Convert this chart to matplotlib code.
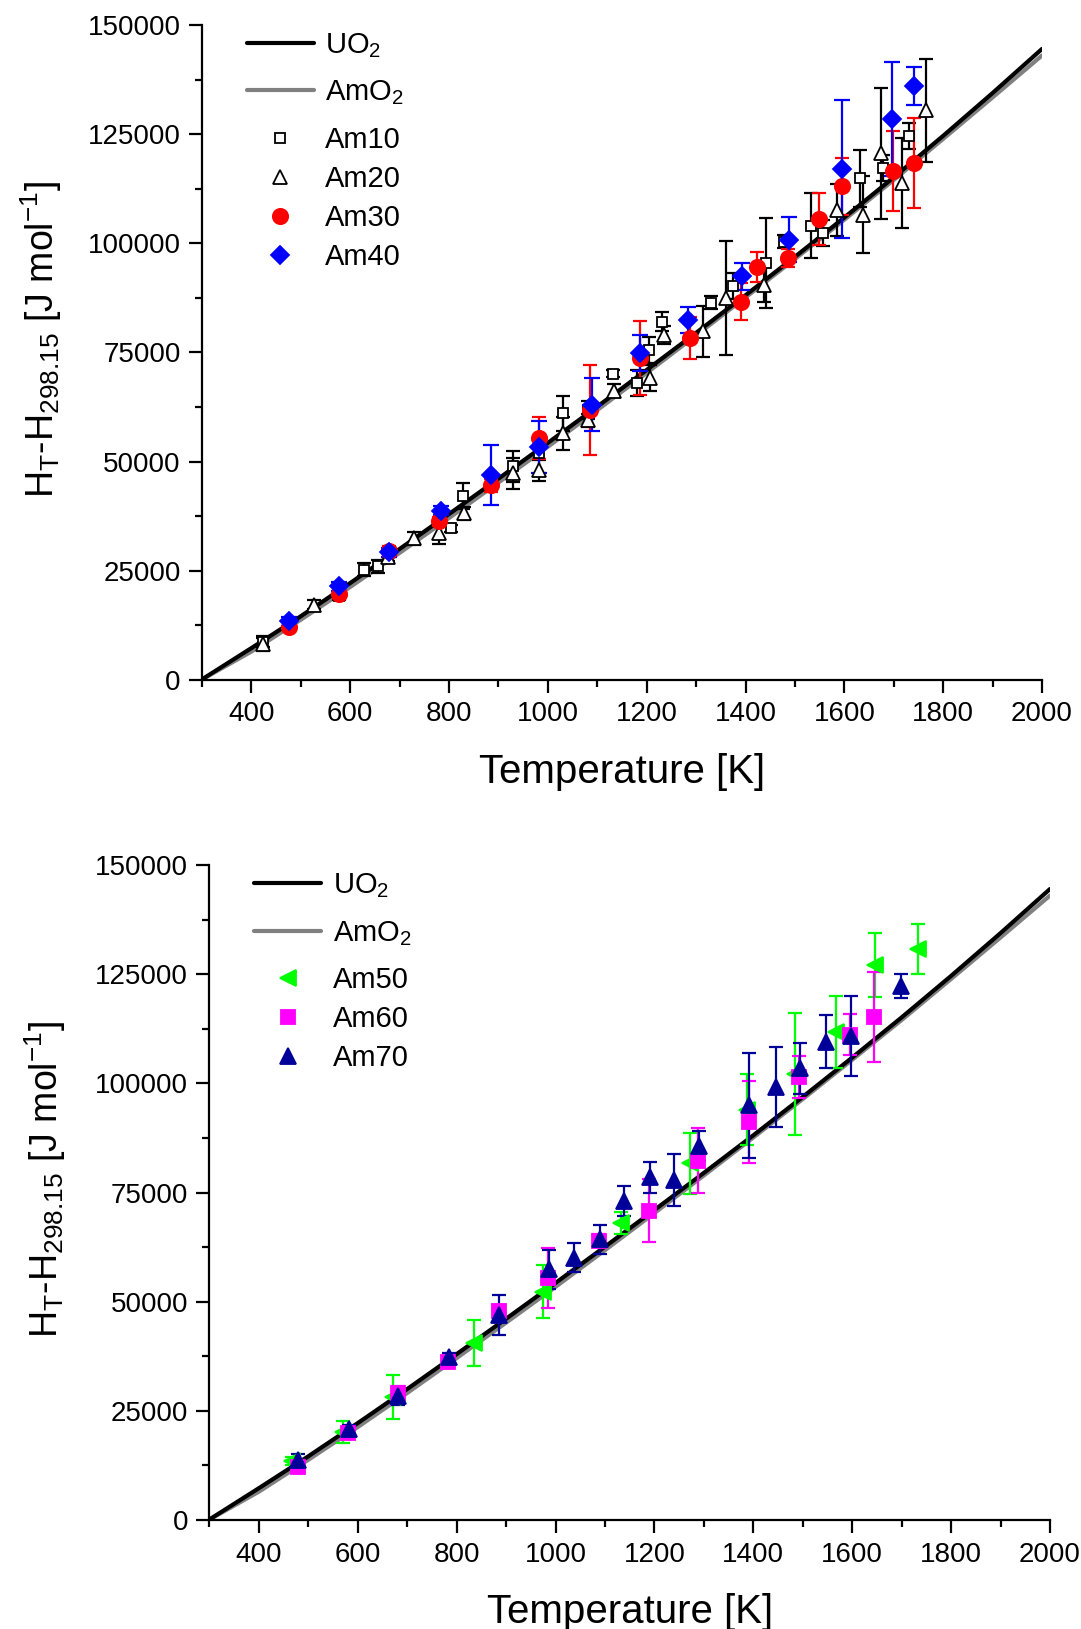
import numpy as np
import matplotlib
matplotlib.use('Agg')
from matplotlib import pyplot as plt
from matplotlib.ticker import MultipleLocator

plt.rcParams['font.family'] = ['Liberation Sans', 'DejaVu Sans']
plt.rcParams['mathtext.fontset'] = 'custom'
plt.rcParams['mathtext.rm'] = 'Liberation Sans'
plt.rcParams['mathtext.it'] = 'Liberation Sans'
plt.rcParams['mathtext.default'] = 'regular'

#----------------- reference curves -----------------#
T_ref = [298.15, 400, 500, 600, 700, 800, 900, 1000, 1100, 1200, 1300,
         1400, 1500, 1600, 1700, 1800, 1900, 2000]
H_uo2 = [0, 7300, 14600, 22200, 30000, 38000, 46100, 54300, 62600, 71000,
         79500, 88100, 96900, 105900, 115100, 124600, 134400, 144500]
H_amo2 = [0, 6500, 13800, 21300, 29100, 37100, 45200, 53400, 61800, 70300,
          78900, 87600, 96400, 105400, 114500, 123900, 133400, 143000]

#----------------- top panel: Am10 .. Am40 -----------------#
am10_T = [424, 577, 628, 657, 803, 829, 930, 981, 1031, 1082, 1131, 1181, 1205,
          1231, 1331, 1374, 1441, 1478, 1532, 1557, 1632, 1679, 1730]
am10_H = [8800, 19200, 25200, 26000, 34700, 42100, 48900, 51900, 61100, 61800,
          70100, 68000, 75600, 82000, 86400, 90300, 95400, 100400, 104000,
          102300, 114900, 117200, 124500]
am10_e = [1200, 800, 1500, 1500, 800, 2900, 3500, 1500, 4000, 2000, 800, 3000,
          3000, 2200, 1500, 3000, 10300, 1500, 7400, 3000, 6500, 3000, 3000]

am20_T = [424, 527, 677, 728, 780, 830, 930, 982, 1031, 1082, 1133, 1207, 1235,
          1313, 1360, 1437, 1585, 1637, 1674, 1716, 1765]
am20_H = [8200, 17200, 28200, 32400, 33600, 38200, 47300, 48100, 56500, 59500,
          66200, 69100, 79000, 79800, 87500, 90500, 107600, 106500, 120600,
          113700, 130500]
am20_e = [1500, 1000, 1000, 1500, 2500, 1500, 3500, 2500, 3800, 1500, 1500,
          3000, 2000, 5800, 13000, 4000, 6000, 8800, 15000, 10300, 11800]

am30_T = [475, 578, 679, 779, 884, 981, 1085, 1186, 1288, 1391, 1424, 1485,
          1549, 1595, 1699, 1740]
am30_H = [12200, 19700, 29600, 36300, 44600, 55300, 61800, 73700, 78300, 86600,
          94600, 96600, 105600, 113000, 116600, 118300]
am30_e = [1000, 1000, 1000, 1000, 1500, 4800, 10400, 8500, 4800, 4200, 3400,
          2000, 6000, 6500, 9200, 10300]

am40_T = [476, 577, 679, 783, 884, 981, 1089, 1186, 1283, 1393, 1487, 1596,
          1696, 1740]
am40_H = [13400, 21400, 29200, 38800, 47000, 53300, 63000, 74800, 82400, 92400,
          100800, 116900, 128500, 136000]
am40_e = [1000, 1000, 1000, 1000, 6900, 5900, 6100, 4100, 3000, 3100, 5100,
          15800, 13000, 4300]

#----------------- bottom panel: Am50 .. Am70 -----------------#
am50_T = [466, 571, 672, 834, 975, 1133, 1272, 1388, 1484, 1567, 1647, 1733]
am50_H = [13500, 20100, 28200, 40500, 52300, 68000, 81700, 94000, 102200,
          111800, 127100, 130800]
am50_e = [1000, 2500, 5100, 5300, 6000, 2600, 7000, 8100, 14000, 8200, 7300, 5700]

am60_T = [478, 581, 682, 782, 885, 985, 1088, 1188, 1289, 1391, 1492, 1595, 1645]
am60_H = [12200, 20000, 29200, 36300, 47800, 55400, 64000, 70800, 82300, 91200,
          101500, 111100, 115100]
am60_e = [1500, 1200, 1500, 800, 1500, 6900, 1500, 7200, 7400, 9400, 4800,
          4700, 10300]

am70_T = [480, 582, 682, 785, 886, 987, 1038, 1089, 1139, 1190, 1239, 1290,
          1392, 1445, 1494, 1547, 1597, 1699]
am70_H = [13700, 20800, 28400, 37400, 47000, 57400, 60100, 64300, 73000, 78500,
          77900, 85700, 95000, 99200, 103400, 109500, 110900, 122300]
am70_e = [1500, 1000, 2000, 800, 4600, 4500, 3400, 3300, 3400, 3600, 5900, 3500,
          12000, 9200, 5800, 6100, 9200, 2700]

fig = plt.figure(figsize=(10.81, 16.29), dpi=100)
ax1 = fig.add_axes([0.1869, 0.5826, 0.7770, 0.4021])
ax2 = fig.add_axes([0.1938, 0.0669, 0.7775, 0.4021])


def series(ax, T, H, e, marker, color, ms, label, mfc=None, capsize=5):
    ax.errorbar(T, H, yerr=e, fmt='none', ecolor=color, elinewidth=1.6,
                capsize=capsize, capthick=1.6, zorder=3)
    h, = ax.plot(T, H, linestyle='none', marker=marker, ms=ms, color=color,
                 mfc=mfc if mfc else color, mec=color, mew=1.3, label=label,
                 zorder=4)
    return h


def setup(ax):
    l1, = ax.plot(T_ref, H_uo2, color='black', lw=3, label='UO$_2$', zorder=2,
                  solid_capstyle='round')
    l2, = ax.plot(T_ref, H_amo2, color='#808080', lw=3, label='AmO$_2$',
                  zorder=1, solid_capstyle='round')
    ax.set_xlim(300, 2000)
    ax.set_ylim(0, 150000)
    ax.xaxis.set_major_locator(MultipleLocator(200))
    ax.xaxis.set_minor_locator(MultipleLocator(100))
    ax.yaxis.set_major_locator(MultipleLocator(25000))
    ax.yaxis.set_minor_locator(MultipleLocator(12500))
    ax.set_xticks(range(400, 2001, 200))
    for s in ['top', 'right']:
        ax.spines[s].set_visible(False)
    for s in ['left', 'bottom']:
        ax.spines[s].set_linewidth(1.6)
    ax.tick_params(which='major', direction='out', length=9.5, width=1.6,
                   labelsize=20, pad=6)
    ax.tick_params(which='minor', direction='out', length=5, width=1.6)
    ax.set_xlabel('Temperature [K]', fontsize=29)
    ax.set_ylabel('H$_T$-H$_{298.15}$ [J mol$^{-1}$]', fontsize=27)
    return [l1, l2]


lines1 = setup(ax1)
pts1 = [series(ax1, am10_T, am10_H, am10_e, 's', 'black', 7, 'Am10', mfc='white'),
        series(ax1, am20_T, am20_H, am20_e, '^', 'black', 10, 'Am20', mfc='white'),
        series(ax1, am30_T, am30_H, am30_e, 'o', 'red', 11, 'Am30'),
        series(ax1, am40_T, am40_H, am40_e, 'D', 'blue', 9, 'Am40', capsize=6)]

lines2 = setup(ax2)
pts2 = [series(ax2, am50_T, am50_H, am50_e, '<', '#00ff00', 12, 'Am50'),
        series(ax2, am60_T, am60_H, am60_e, 's', '#ff00ff', 9.5, 'Am60'),
        series(ax2, am70_T, am70_H, am70_e, '^', '#000099', 12, 'Am70')]

kw = dict(loc='upper left', frameon=False, fontsize=21, handlelength=2.3,
          handletextpad=0.4, numpoints=1, borderpad=0, borderaxespad=0)

for ax, lines, pts, ylx in ((ax1, lines1, pts1, -0.164), (ax2, lines2, pts2, -0.168)):
    leg1 = ax.legend(handles=lines, bbox_to_anchor=(0.053, 0.990),
                     labelspacing=0.63, **kw)
    ax.add_artist(leg1)
    ax.legend(handles=pts, bbox_to_anchor=(0.053, 0.846),
              labelspacing=0.38, **kw)
    ax.xaxis.set_label_coords(0.5, -0.112)
    ax.yaxis.set_label_coords(ylx, 0.52)

fig.savefig('out.png', dpi=100)
